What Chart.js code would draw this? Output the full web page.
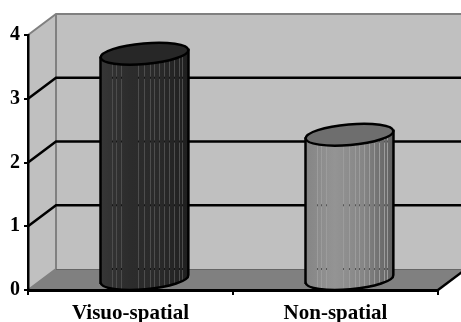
<!DOCTYPE html>
<html>
<head>
<meta charset="utf-8">
<script src="https://cdn.jsdelivr.net/npm/chart.js@4"></script>
<style>
  html, body { margin: 0; padding: 0; background: #fff; }
  canvas { display: block; }
</style>
</head>
<body>
<canvas id="chart" width="461" height="322"></canvas>
<script>
// values
const categories = ['Visuo-spatial', 'Non-spatial'];
const values = [3.55, 2.28];
const yTickValues = [0, 1, 2, 3, 4];

// 3D look
const DEPTH_X = 28;
const DEPTH_Y = 21;
const BAR_SHIFT_X = 14;
const BAR_SHIFT_Y = 10;
const ELLIPSE_RY = 10.3;
const ELLIPSE_ROT = -5 * Math.PI / 180;
const stripes = [.13, .18, .235, .43, .49, .56, .61, .67, .72, .78, .83, .89, .93];
const barStyles = [
    { stops: ['#363636', '#2c2c2c', '#2a2a2a', '#1f1f1f'], top: '#272727', stripe: '#4d4d4d', mark: '#161616' },
    { stops: ['#858585', '#949494', '#858585', '#5f5f5f'], top: '#6e6e6e', stripe: '#9c9c9c', mark: '#555555' }
];

// walls and floor, drawn before the axes
const wallsPlugin = {
    id: 'walls',
    beforeDraw(chart) {
        const { ctx, scales: { x, y } } = chart;
        const left = x.left, right = x.right;
        const top = y.getPixelForValue(4), bottom = y.getPixelForValue(0);
        const backLeft = left + DEPTH_X, backRight = right + DEPTH_X;
        const backTop = top - DEPTH_Y, backBottom = bottom - DEPTH_Y;

        ctx.save();
        ctx.fillStyle = '#c0c0c0';
        ctx.fillRect(backLeft, backTop, backRight - backLeft, backBottom - backTop);
        ctx.beginPath();
        ctx.moveTo(left, top);
        ctx.lineTo(backLeft, backTop);
        ctx.lineTo(backLeft, backBottom);
        ctx.lineTo(left, bottom);
        ctx.closePath();
        ctx.fill();

        ctx.fillStyle = '#808080';
        ctx.beginPath();
        ctx.moveTo(left, bottom);
        ctx.lineTo(backLeft, backBottom);
        ctx.lineTo(backRight, backBottom);
        ctx.lineTo(right, bottom);
        ctx.closePath();
        ctx.fill();

        // wall edges
        ctx.strokeStyle = '#808080';
        ctx.lineWidth = 2;
        ctx.beginPath();
        ctx.moveTo(left, top);
        ctx.lineTo(backLeft, backTop);
        ctx.lineTo(backRight, backTop);
        ctx.moveTo(backLeft, backTop);
        ctx.lineTo(backLeft, backBottom);
        ctx.lineTo(left, bottom);
        ctx.stroke();
        ctx.lineWidth = 1;
        ctx.strokeStyle = '#666666';
        ctx.beginPath();
        ctx.moveTo(backLeft, backBottom + 0.5);
        ctx.lineTo(backRight, backBottom + 0.5);
        ctx.stroke();

        // grid lines run along the side wall and the back wall
        ctx.strokeStyle = '#000';
        ctx.lineWidth = 2.5;
        yTickValues.slice(1, -1).forEach(v => {
            const py = y.getPixelForValue(v);
            ctx.beginPath();
            ctx.moveTo(left, py);
            ctx.lineTo(backLeft, py - DEPTH_Y);
            ctx.lineTo(backRight, py - DEPTH_Y);
            ctx.stroke();
        });

        // right end of the floor
        ctx.beginPath();
        ctx.moveTo(right, bottom);
        ctx.lineTo(backRight, backBottom);
        ctx.stroke();
        ctx.restore();
    }
};

// cylinders placed from the bar elements
const cylinderPlugin = {
    id: 'cylinders',
    afterDatasetsDraw(chart) {
        const { ctx, scales: { y } } = chart;
        chart.getDatasetMeta(0).data.forEach((bar, i) => {
            const style = barStyles[i];
            const cx = bar.x + BAR_SHIFT_X;
            const rx = bar.width / 2;
            const topY = bar.y - BAR_SHIFT_Y;
            const baseY = bar.base - BAR_SHIFT_Y;
            const skew = rx * Math.sin(ELLIPSE_ROT);

            ctx.save();
            const grad = ctx.createLinearGradient(cx - rx, 0, cx + rx, 0);
            style.stops.forEach((c, n) => grad.addColorStop(n / (style.stops.length - 1), c));

            const body = new Path2D();
            body.moveTo(cx - rx, topY - skew);
            body.lineTo(cx - rx, baseY - skew);
            body.ellipse(cx, baseY, rx, ELLIPSE_RY, ELLIPSE_ROT, Math.PI, 0, true);
            body.lineTo(cx + rx, topY + skew);
            body.closePath();
            ctx.fillStyle = grad;
            ctx.fill(body);

            ctx.save();
            ctx.clip(body);
            stripes.forEach(f => {
                const sx = Math.round(cx - rx + f * bar.width);
                ctx.fillStyle = style.stripe;
                ctx.fillRect(sx, topY - rx, 1, baseY - topY + 2 * rx);
                // back grid lines show faintly through the stripes
                ctx.fillStyle = style.mark;
                yTickValues.slice(0, -1).forEach(v => {
                    const gy = y.getPixelForValue(v) - DEPTH_Y;
                    ctx.fillRect(sx, gy - 1, 1, 2);
                });
            });
            ctx.restore();

            ctx.strokeStyle = '#000';
            ctx.lineWidth = 2.5;
            ctx.stroke(body);

            ctx.beginPath();
            ctx.ellipse(cx, topY, rx, ELLIPSE_RY, ELLIPSE_ROT, 0, Math.PI * 2);
            ctx.fillStyle = style.top;
            ctx.fill();
            ctx.stroke();
            ctx.restore();
        });
    }
};

new Chart(document.getElementById('chart'), {
    type: 'bar',
    data: {
        labels: categories,
        datasets: [{
            data: values,
            backgroundColor: 'rgba(0,0,0,0)',
            borderWidth: 0,
            barThickness: 88
        }]
    },
    options: {
        responsive: false,
        animation: false,
        layout: { padding: { top: 35, right: 23, left: 0, bottom: 0 } },
        plugins: { legend: { display: false }, tooltip: { enabled: false } },
        scales: {
            x: {
                afterFit: scale => { scale.height = 32; },
                border: { color: '#000', width: 3 },
                grid: { drawOnChartArea: false, drawTicks: true, tickLength: 5, color: '#000', lineWidth: 2 },
                ticks: {
                    color: '#000',
                    padding: 6,
                    maxRotation: 0,
                    font: { family: '"Liberation Serif"', size: 21, weight: 'bold' }
                }
            },
            y: {
                min: 0,
                max: 4,
                afterFit: scale => { scale.width = 28; },
                afterBuildTicks: scale => { scale.ticks = yTickValues.map(value => ({ value })); },
                border: { color: '#000', width: 2.5 },
                grid: { drawOnChartArea: false, drawTicks: true, tickLength: 4, color: '#000', lineWidth: 2 },
                ticks: {
                    color: '#000',
                    padding: 4,
                    font: { family: '"Liberation Serif"', size: 20, weight: 'bold' }
                }
            }
        }
    },
    plugins: [wallsPlugin, cylinderPlugin]
});
</script>
</body>
</html>
